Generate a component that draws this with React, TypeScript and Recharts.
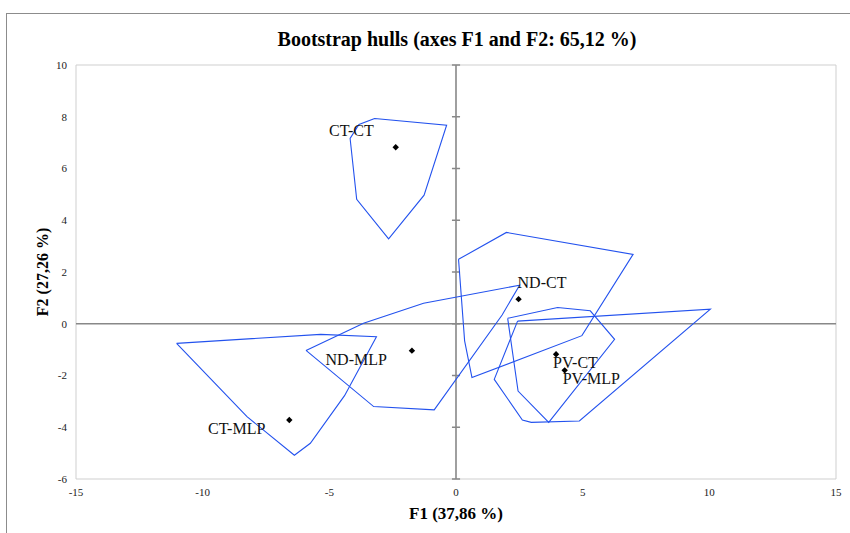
import React from 'react';
import {
  ScatterChart,
  Scatter,
  XAxis,
  YAxis,
  ReferenceLine,
  ReferenceArea,
  Label,
} from 'recharts';

type Pt = { x: number; y: number };
type Centroid = { name: string; x: number; y: number };

// convex hulls of the bootstrap replicates, one per group
const ctCtHull: Pt[] = [
  { x: -3.21, y: 7.93 }, { x: -0.37, y: 7.67 }, { x: -1.26, y: 4.97 }, { x: -2.66, y: 3.28 },
  { x: -3.92, y: 4.81 }, { x: -4.18, y: 7.16 }, { x: -3.83, y: 7.7 },
];
const ctMlpHull: Pt[] = [
  { x: -11.03, y: -0.76 }, { x: -5.34, y: -0.41 }, { x: -3.14, y: -0.5 }, { x: -4.4, y: -2.78 },
  { x: -5.75, y: -4.62 }, { x: -6.38, y: -5.08 }, { x: -8.25, y: -3.59 },
];
const ndMlpHull: Pt[] = [
  { x: -5.92, y: -1.03 }, { x: -3.65, y: 0.02 }, { x: -1.28, y: 0.79 }, { x: 2.51, y: 1.49 },
  { x: 1.82, y: 0.34 }, { x: -0.86, y: -3.33 }, { x: -3.25, y: -3.2 },
];
const ndCtHull: Pt[] = [
  { x: 0.1, y: 2.49 }, { x: 1.99, y: 3.53 }, { x: 6.99, y: 2.68 }, { x: 4.97, y: -0.46 },
  { x: 0.63, y: -2.08 }, { x: 0.34, y: -0.66 },
];
const pvCtHull: Pt[] = [
  { x: 2.04, y: 0.21 }, { x: 4.01, y: 0.63 }, { x: 5.3, y: 0.5 }, { x: 6.26, y: -0.6 },
  { x: 3.66, y: -3.81 }, { x: 2.45, y: -2.6 },
];
const pvMlpHull: Pt[] = [
  { x: 2.43, y: 0.1 }, { x: 10.04, y: 0.56 }, { x: 4.87, y: -3.76 }, { x: 2.97, y: -3.81 },
  { x: 2.62, y: -3.72 }, { x: 1.51, y: -2.15 },
];

const centroids: Centroid[] = [
  { name: 'CT-CT', x: -2.38, y: 6.82 },
  { name: 'CT-MLP', x: -6.58, y: -3.72 },
  { name: 'ND-MLP', x: -1.74, y: -1.04 },
  { name: 'ND-CT', x: 2.47, y: 0.95 },
  { name: 'PV-CT', x: 3.95, y: -1.18 },
  { name: 'PV-MLP', x: 4.29, y: -1.8 },
];

const xTicks = [-15, -10, -5, 0, 5, 10, 15];
const yTicks = [-6, -4, -2, 0, 2, 4, 6, 8, 10];

const hulls = [ctCtHull, ctMlpHull, ndMlpHull, ndCtHull, pvCtHull, pvMlpHull];

// where each centroid name sits relative to its marker
const labelPos: Record<string, { dx: number; dy: number; anchor: 'start' | 'end' }> = {
  'CT-CT': { dx: -22, dy: -11, anchor: 'end' },
  'CT-MLP': { dx: -24, dy: 14, anchor: 'end' },
  'ND-MLP': { dx: -25, dy: 14, anchor: 'end' },
  'ND-CT': { dx: -1, dy: -11, anchor: 'start' },
  'PV-CT': { dx: -3, dy: 14, anchor: 'start' },
  'PV-MLP': { dx: -2, dy: 14, anchor: 'start' },
};

const FONT = '"Liberation Serif", "Times New Roman", serif';
const HULL = '#2352ee';
const AXIS = '#888888';

const closeRing = (pts: Pt[]) => [...pts, pts[0]];

const NoDot = () => <g />;

const CentroidMark = (props: any) => {
  const { cx, cy, payload } = props;
  const pos = labelPos[payload.name];
  const r = 3.2;
  return (
    <g>
      <polygon
        points={`${cx},${cy - r} ${cx + r},${cy} ${cx},${cy + r} ${cx - r},${cy}`}
        fill="#000"
      />
      <text
        x={cx + pos.dx}
        y={cy + pos.dy}
        textAnchor={pos.anchor}
        fontFamily={FONT}
        fontSize={16}
        fill="#111"
      >
        {payload.name}
      </text>
    </g>
  );
};

export default function App() {
  return (
    <div
      style={{
        position: 'absolute',
        left: 0,
        top: 0,
        width: 850,
        height: 533,
        overflow: 'hidden',
        background: '#fff',
      }}
    >
      {/* outer frame of the graph sheet */}
      <div
        style={{
          position: 'absolute',
          left: 6,
          top: 13,
          width: 860,
          height: 540,
          borderLeft: '1px solid #8c8c8c',
          borderTop: '1px solid #8c8c8c',
        }}
      />
      <div
        style={{
          position: 'absolute',
          left: 207,
          top: 28,
          width: 500,
          textAlign: 'center',
          fontFamily: FONT,
          fontWeight: 'bold',
          fontSize: 20,
          lineHeight: '23px',
          color: '#000',
        }}
      >
        Bootstrap hulls (axes F1 and F2: 65,12 %)
      </div>
      <ScatterChart
        width={850}
        height={533}
        margin={{ top: 65, right: 14, bottom: 0, left: 0 }}
        style={{ position: 'absolute', left: 0, top: 0 }}
      >
        <XAxis
          type="number"
          dataKey="x"
          domain={[-15, 15]}
          ticks={xTicks}
          axisLine={false}
          tickLine={false}
          tickMargin={3}
          height={54}
          tick={{ fontSize: 11, fontFamily: FONT, fill: '#222' }}
        >
          <Label
            value="F1 (37,86 %)"
            position="insideBottom"
            offset={14}
            style={{ fontSize: 17, fontWeight: 'bold', fontFamily: FONT, fill: '#000' }}
          />
        </XAxis>
        <YAxis
          type="number"
          dataKey="y"
          domain={[-6, 10]}
          ticks={yTicks}
          axisLine={false}
          tickLine={false}
          tickMargin={3}
          width={76}
          tick={{ fontSize: 11, fontFamily: FONT, fill: '#222' }}
        >
          <Label
            value="F2 (27,26 %)"
            position="center"
            angle={-90}
            dx={4}
            style={{ fontSize: 16, fontWeight: 'bold', fontFamily: FONT, fill: '#000', textAnchor: 'middle' }}
          />
        </YAxis>
        <ReferenceArea
          x1={-15}
          x2={15}
          y1={-6}
          y2={10}
          fill="none"
          fillOpacity={0}
          stroke="#cfcfcf"
          strokeWidth={1}
        />
        <ReferenceLine y={0} stroke={AXIS} strokeWidth={1.6} />
        <ReferenceLine x={0} stroke={AXIS} strokeWidth={1.6} />
        {yTicks.map((t) => (
          <ReferenceLine
            key={`tick-${t}`}
            segment={[{ x: -0.16, y: t }, { x: 0.16, y: t }]}
            stroke={AXIS}
            strokeWidth={1.5}
          />
        ))}
        {hulls.map((h, i) => (
          <Scatter
            key={`hull-${i}`}
            data={closeRing(h)}
            line={{ stroke: HULL, strokeWidth: 1.1 }}
            lineType="joint"
            shape={NoDot}
            isAnimationActive={false}
          />
        ))}
        <Scatter data={centroids} shape={CentroidMark} isAnimationActive={false} />
      </ScatterChart>
    </div>
  );
}
